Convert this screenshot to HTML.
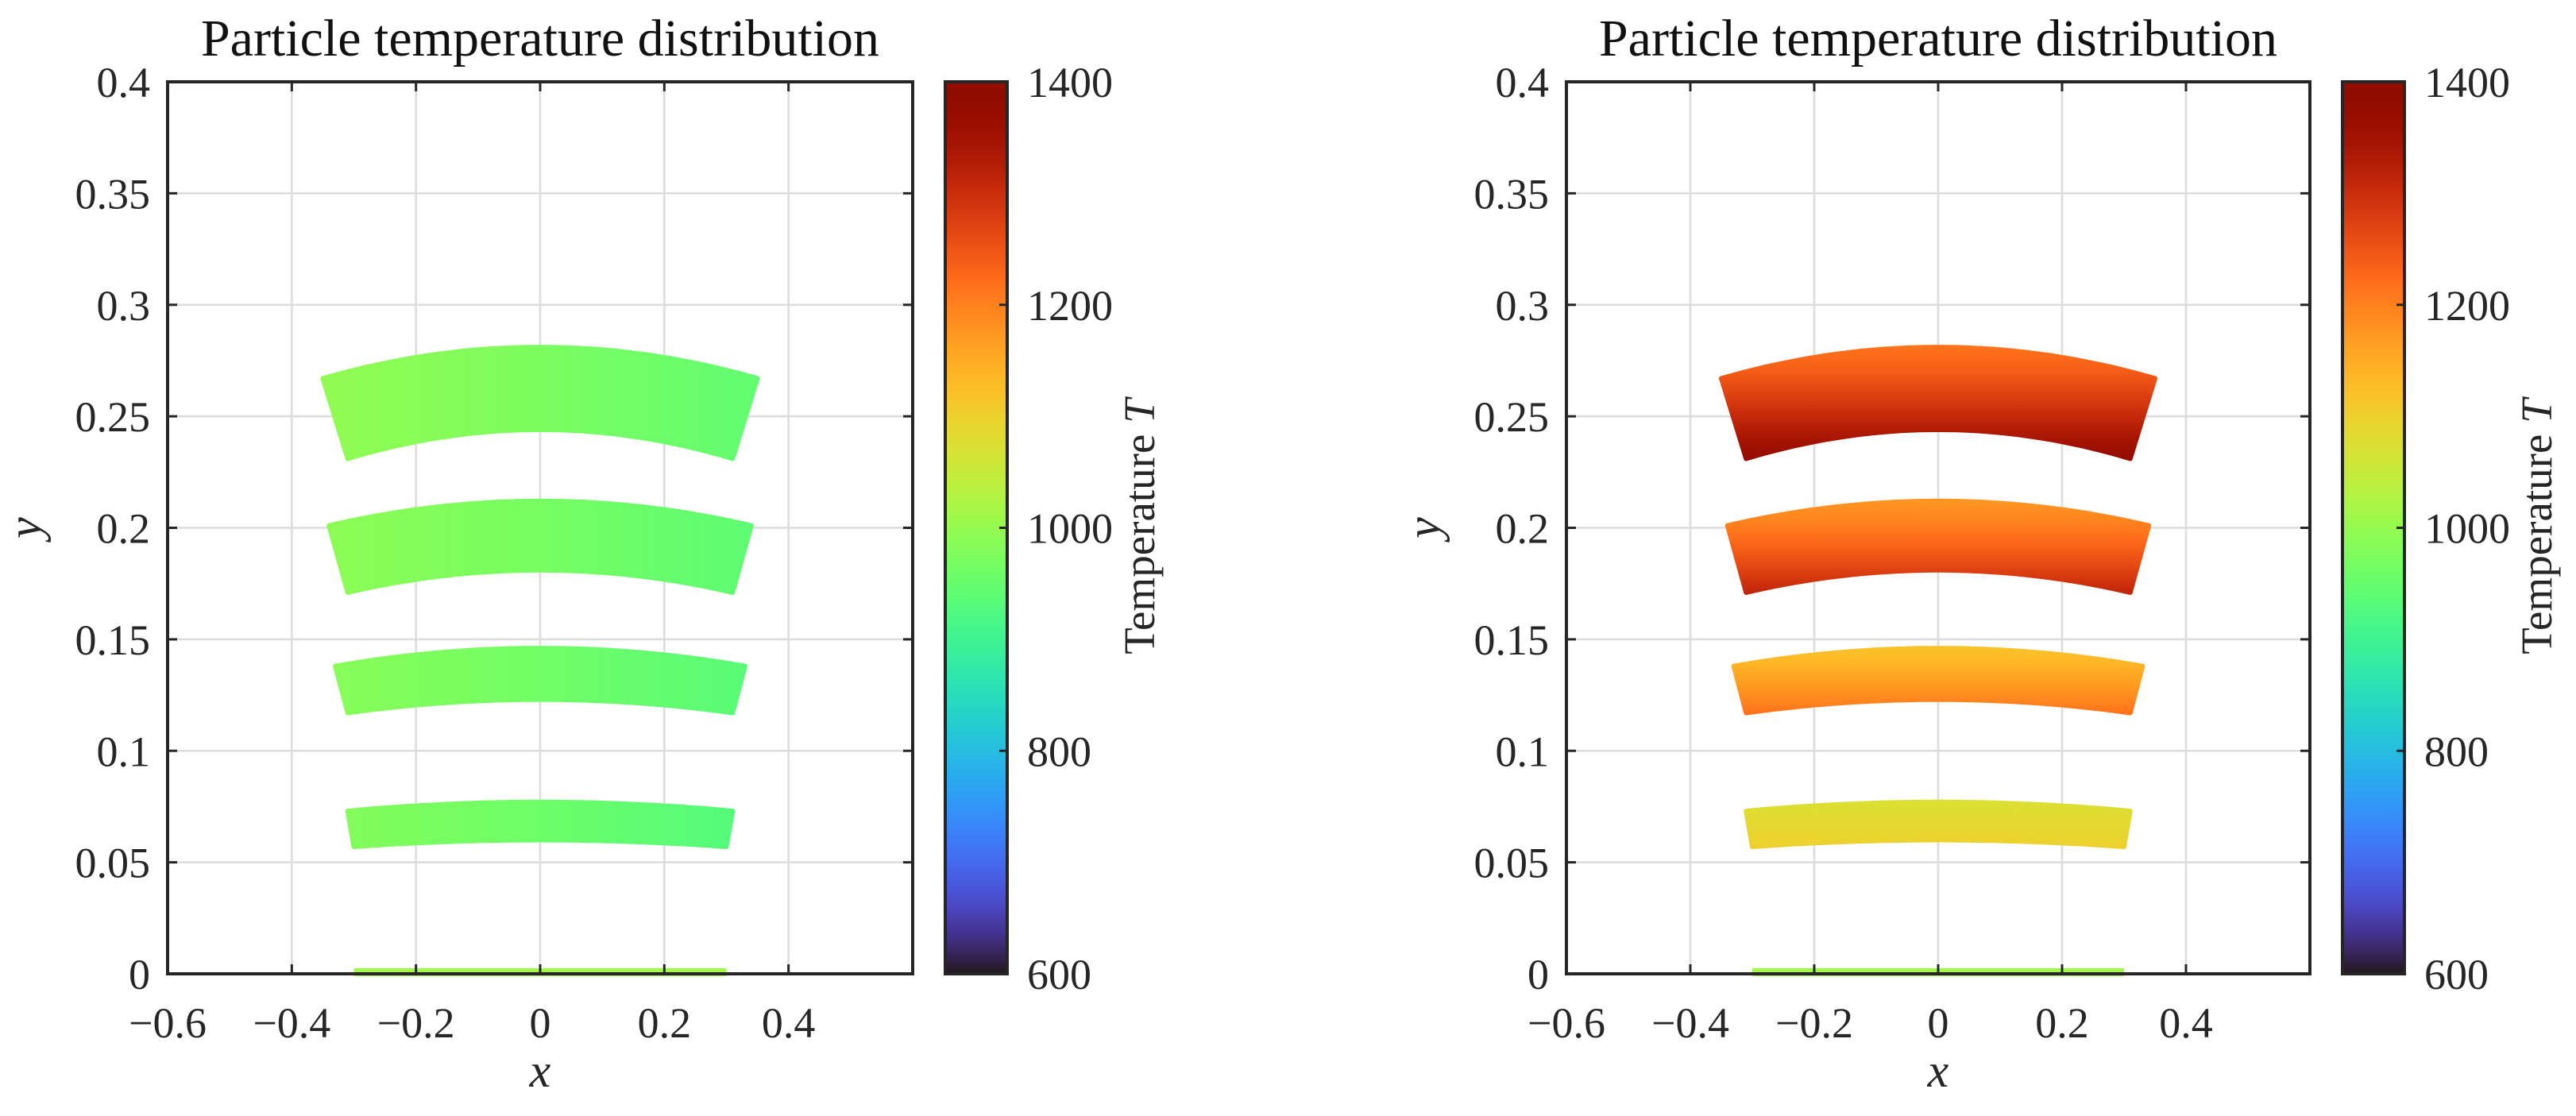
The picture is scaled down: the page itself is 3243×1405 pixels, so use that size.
<!DOCTYPE html>
<html><head><meta charset="utf-8"><style>
html,body{margin:0;padding:0;background:#fff;}
svg{display:block;font-family:"Liberation Serif",serif;}
</style></head><body>
<svg id="fig" width="3243" height="1405" viewBox="0 0 3243 1405" xmlns="http://www.w3.org/2000/svg"></svg>
<script>
// ---- data ----
const xTicks = [-0.6, -0.4, -0.2, 0, 0.2, 0.4];
const xTickLabels = ["\u22120.6", "\u22120.4", "\u22120.2", "0", "0.2", "0.4"];
const yTicks = [0, 0.05, 0.1, 0.15, 0.2, 0.25, 0.3, 0.35, 0.4];
const yTickLabels = ["0", "0.05", "0.1", "0.15", "0.2", "0.25", "0.3", "0.35", "0.4"];
const cTicks = [600, 800, 1000, 1200, 1400];
const cTickLabels = ["600", "800", "1000", "1200", "1400"];
// particle layers (annular bands)
const bandTopY = [0.281, 0.212, 0.146, 0.077];
const bandBotY = [0.244, 0.181, 0.123, 0.060];
const bandTopHalfW = [0.35, 0.34, 0.33, 0.31];
const bandBotHalfW = [0.31, 0.31, 0.31, 0.30];
const bandTopSag = [0.014, 0.011, 0.008, 0.004];
const bandBotSag = [0.013, 0.010, 0.006, 0.003];
// left panel temperatures (vary with x)
const leftTAtLeft = [995, 990, 985, 980];
const leftTAtRight = [945, 940, 935, 930];
// right panel temperatures (vary with depth in layer)
const rightTTop = [1215, 1175, 1120, 1075];
const rightTBot = [1375, 1310, 1215, 1100];
// base line
const baseHalfW = 0.30;
const baseT = 1010;

// ---- helpers ----
const NS = "http://www.w3.org/2000/svg";
const svg = document.getElementById("fig");
function mk(tag, attrs, parent) {
  const e = document.createElementNS(NS, tag);
  for (const k in attrs) e.setAttribute(k, attrs[k]);
  (parent || svg).appendChild(e);
  return e;
}
function turbo(T) {
  let x = Math.max(0, Math.min(1, (T - 600) / 800));
  const r = 0.13572138 + x*(4.61539260 + x*(-42.66032258 + x*(132.13108234 + x*(-152.94239396 + x*59.28637943))));
  const g = 0.09140261 + x*(2.19418839 + x*(4.84296658 + x*(-14.18503333 + x*(4.27729857 + x*2.82956604))));
  const b = 0.10667330 + x*(12.64194608 + x*(-60.58204836 + x*(110.36276771 + x*(-89.90310912 + x*27.34824973))));
  const c = v => Math.round(255 * Math.max(0, Math.min(1, v)));
  return `rgb(${c(r)},${c(g)},${c(b)})`;
}
const defs = mk("defs", {});

function panel(idx, L, R, T, B, cbL, cbR, mode) {
  const sx = v => L + (v + 0.6) / 1.2 * (R - L);
  const sy = v => B - v / 0.4 * (B - T);
  const cy = v => B - (v - 600) / 800 * (B - T);
  const g = mk("g", {});
  
  
  mk("rect", {x: L, y: T, width: R - L, height: B - T, fill: "#fff"}, g);
  // grid
  xTicks.forEach(v => {
    const l = mk("line", {x1: sx(v), x2: sx(v), y1: T, y2: B, stroke: "#dcdcdc", "stroke-width": 2.5}, g);
    
    
  });
  yTicks.forEach(v => {
    const l = mk("line", {x1: L, x2: R, y1: sy(v), y2: sy(v), stroke: "#dcdcdc", "stroke-width": 2.5}, g);
    
    
  });
  // bands
  for (let i = 0; i < bandTopY.length; i++) {
    const N = 40;
    let pts = [];
    for (let k = 0; k <= N; k++) {
      const x = -bandTopHalfW[i] + 2 * bandTopHalfW[i] * k / N;
      const y = bandTopY[i] - bandTopSag[i] * (x / bandTopHalfW[i]) ** 2;
      pts.push(sx(x).toFixed(1) + "," + sy(y).toFixed(1));
    }
    for (let k = N; k >= 0; k--) {
      const x = -bandBotHalfW[i] + 2 * bandBotHalfW[i] * k / N;
      const y = bandBotY[i] - bandBotSag[i] * (x / bandBotHalfW[i]) ** 2;
      pts.push(sx(x).toFixed(1) + "," + sy(y).toFixed(1));
    }
    const gid = "grad" + idx + "_" + i;
    let grad;
    if (mode === "x") {
      grad = mk("linearGradient", {id: gid, gradientUnits: "userSpaceOnUse",
        x1: sx(-bandTopHalfW[i]), x2: sx(bandTopHalfW[i]), y1: 0, y2: 0}, defs);
      mk("stop", {offset: 0, "stop-color": turbo(leftTAtLeft[i])}, grad);
      mk("stop", {offset: 0.45, "stop-color": turbo((leftTAtLeft[i] * 0.6 + leftTAtRight[i] * 0.4))}, grad);
      mk("stop", {offset: 1, "stop-color": turbo(leftTAtRight[i])}, grad);
    } else {
      grad = mk("linearGradient", {id: gid, gradientUnits: "userSpaceOnUse",
        x1: 0, x2: 0, y1: sy(bandTopY[i]), y2: sy(bandBotY[i] - bandBotSag[i])}, defs);
      for (let s = 0; s <= 6; s++) {
        const f = s / 6;
        mk("stop", {offset: f, "stop-color": turbo(rightTTop[i] + (rightTBot[i] - rightTTop[i]) * Math.pow(f, 1.2))}, grad);
      }
    }
    const p = mk("polygon", {points: pts.join(" "), fill: `url(#${gid})`, stroke: `url(#${gid})`, "stroke-width": 6, "stroke-linejoin": "round"}, g);
    
    
  }
  // base line
  const base = mk("rect", {x: sx(-baseHalfW), y: sy(0) - 7, width: sx(baseHalfW) - sx(-baseHalfW), height: 10, fill: turbo(baseT)}, g);
  
  
  // ticks
  xTicks.forEach(v => {
    mk("line", {x1: sx(v), x2: sx(v), y1: B, y2: B - 12, stroke: "#262626", "stroke-width": 3}, g);
    mk("line", {x1: sx(v), x2: sx(v), y1: T, y2: T + 12, stroke: "#262626", "stroke-width": 3}, g);
  });
  yTicks.forEach(v => {
    mk("line", {x1: L, x2: L + 12, y1: sy(v), y2: sy(v), stroke: "#262626", "stroke-width": 3}, g);
    mk("line", {x1: R, x2: R - 12, y1: sy(v), y2: sy(v), stroke: "#262626", "stroke-width": 3}, g);
  });
  const frame = mk("rect", {x: L, y: T, width: R - L, height: B - T, fill: "none", stroke: "#262626", "stroke-width": 4}, g);
  
  
  // tick labels
  xTicks.forEach((v, i) => {
    const t = mk("text", {x: sx(v), y: B + 80, "font-size": 54, "text-anchor": "middle", fill: "#262626"}, g);
    t.textContent = xTickLabels[i];
    
    
  });
  yTicks.forEach((v, i) => {
    const t = mk("text", {x: L - 22, y: sy(v) + 19, "font-size": 54, "text-anchor": "end", fill: "#262626"}, g);
    t.textContent = yTickLabels[i];
    
    
  });
  // axis titles
  const xt = mk("text", {x: (L + R) / 2, y: 1368, "font-size": 60, "font-style": "italic", "text-anchor": "middle", fill: "#262626"}, g);
  xt.textContent = "x";
  
  
  const yx = L - 160, yy = (T + B) / 2;
  const yt = mk("text", {x: yx, y: yy, "font-size": 60, "font-style": "italic", "text-anchor": "middle", fill: "#262626", transform: `rotate(-90 ${yx} ${yy})`}, g);
  yt.textContent = "y";
  
  
  const tt = mk("text", {x: (L + R) / 2, y: 70, "font-size": 66, "text-anchor": "middle", fill: "#111"}, g);
  tt.textContent = "Particle temperature distribution";
  
  
  // colorbar
  const cg = mk("linearGradient", {id: "cb" + idx, x1: 0, x2: 0, y1: 1, y2: 0}, defs);
  for (let s = 0; s <= 40; s++) {
    mk("stop", {offset: s / 40, "stop-color": turbo(600 + 800 * s / 40)}, cg);
  }
  const cb = mk("rect", {x: cbL, y: T, width: cbR - cbL, height: B - T, fill: `url(#cb${idx})`, stroke: "#262626", "stroke-width": 4}, g);
  
  
  cTicks.forEach((v, i) => {
    mk("line", {x1: cbR, x2: cbR - 10, y1: cy(v), y2: cy(v), stroke: "#262626", "stroke-width": 3}, g);
    const t = mk("text", {x: cbR + 25, y: cy(v) + 19, "font-size": 54, fill: "#262626"}, g);
    t.textContent = cTickLabels[i];
    
    
  });
  const lx = cbR + 185, ly = 663;
  const ct = mk("text", {x: lx, y: ly, "font-size": 55, "text-anchor": "middle", fill: "#262626", transform: `rotate(-90 ${lx} ${ly})`}, g);
  ct.textContent = "Temperature ";
  const ti = mk("tspan", {"font-style": "italic"}, ct);
  ti.textContent = "T";
  
  
}
panel(0, 211, 1149, 103, 1226, 1190, 1268, "x");
panel(1, 1972, 2908, 103, 1226, 2949, 3027, "y");
</script>
</body></html>
